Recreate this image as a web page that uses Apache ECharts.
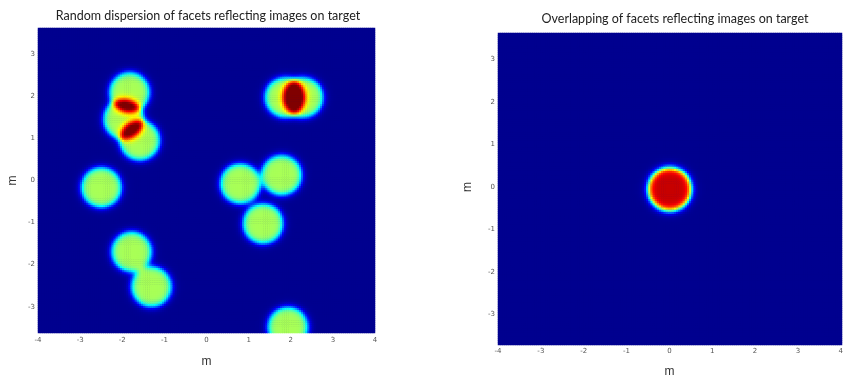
<!DOCTYPE html>
<html><head><meta charset="utf-8">
<script src="https://cdn.jsdelivr.net/npm/echarts@6/dist/echarts.min.js"></script>
<style>html,body{margin:0;padding:0;background:#fff}#c{width:846px;height:383px}</style>
</head><body><div id="c"></div>
<script>
// ---- data (metres) ----
// Left: centres of each facet's image spot on the target
const leftSpotX     = [-1.82, -1.96, -1.58, -2.49, -1.77, -1.30, 1.87, 2.30, 0.81, 1.79, 1.35, 1.94];
const leftSpotY     = [ 2.10,  1.46,  0.96, -0.16, -1.69, -2.52, 1.98, 1.98, -0.07, 0.13, -1.02, -3.48];
const leftSpotLevel = [ 0.54,  0.54,  0.54,  0.54,  0.54,  0.54, 0.54, 0.54, 0.54, 0.54, 0.54, 0.54];
const leftSpotRadius = 0.475;
// Right: all facets overlapped at the centre
const rightSpotX     = [0];
const rightSpotY     = [0];
const rightSpotLevel = [0.93];
const rightSpotRadius = 0.5;
// axis ticks / titles
const xTicks = [-4, -3, -2, -1, 0, 1, 2, 3, 4];
const yTicks = [-3, -2, -1, 0, 1, 2, 3];
const titles = ['Random dispersion of facets reflecting images on target',
                'Overlapping of facets reflecting images on target'];
const axisName = 'm';
const xRange = [-4, 4];
const yRange = [-3.625, 3.625];

// ---- build heatmap table from the spots ----
const step = 0.05;
const nx = Math.round((xRange[1] - xRange[0]) / step);
const ny = Math.round((yRange[1] - yRange[0]) / step);
const xCats = [], yCats = [];
for (let i = 0; i < nx; i++) xCats.push((xRange[0] + (i + 0.5) * step).toFixed(3));
for (let j = 0; j < ny; j++) yCats.push((yRange[0] + (j + 0.5) * step).toFixed(3));
const edge = 0.045;
function buildCells(sx, sy, sl, R) {
  const out = [];
  for (let i = 0; i < nx; i++) {
    const x = +xCats[i];
    for (let j = 0; j < ny; j++) {
      const y = +yCats[j];
      let v = 0;
      for (let k = 0; k < sx.length; k++) {
        const d = Math.hypot(x - sx[k], y - sy[k]);
        v += sl[k] / (1 + Math.exp((d - R) / edge));
      }
      out.push([i, j, Math.min(1, v)]);
    }
  }
  return out;
}
const leftCells = buildCells(leftSpotX, leftSpotY, leftSpotLevel, leftSpotRadius);
const rightCells = buildCells(rightSpotX, rightSpotY, rightSpotLevel, rightSpotRadius);

const plotBoxes = [
  {left: 38, top: 28, width: 337, height: 305},
  {left: 498, top: 33, width: 344, height: 312}
];
const jet = ['#00008F', '#0000FF', '#0080FF', '#00FFFF', '#80FF80', '#FFFF00', '#FF8000', '#FF0000', '#800000'];

const chart = echarts.init(document.getElementById('c'), null, {renderer: 'canvas'});
const labelStyle = {fontSize: 7, color: '#555', fontFamily: 'DejaVu Sans'};
const nameStyle = {fontSize: 12, color: '#333', fontFamily: 'Liberation Sans'};
chart.setOption({
  animation: false,
  backgroundColor: '#fff',
  title: [
    {text: titles[0], left: 203, top: 4, textAlign: 'center',
     textStyle: {fontSize: 12.5, fontWeight: 'normal', color: '#222', fontFamily: 'Lato'}},
    {text: titles[1], left: 670, top: 7, textAlign: 'center',
     textStyle: {fontSize: 12.5, fontWeight: 'normal', color: '#222', fontFamily: 'Lato'}}
  ],
  grid: [
    Object.assign({show: true, backgroundColor: '#00008F', borderWidth: 0}, plotBoxes[0]),
    Object.assign({show: true, backgroundColor: '#00008F', borderWidth: 0}, plotBoxes[1]),
    Object.assign({}, plotBoxes[0]),
    Object.assign({}, plotBoxes[1])
  ],
  xAxis: [
    {type: 'category', gridIndex: 0, data: xCats, show: false},
    {type: 'category', gridIndex: 1, data: xCats, show: false},
    {type: 'value', gridIndex: 2, min: xRange[0], max: xRange[1], interval: 1,
     axisLine: {show: false}, axisTick: {show: false}, splitLine: {show: false},
     axisLabel: Object.assign({margin: 4, customValues: xTicks}, labelStyle),
     name: axisName, nameLocation: 'middle', nameGap: 23, nameTextStyle: nameStyle},
    {type: 'value', gridIndex: 3, min: xRange[0], max: xRange[1], interval: 1,
     axisLine: {show: false}, axisTick: {show: false}, splitLine: {show: false},
     axisLabel: Object.assign({margin: 7, customValues: xTicks}, labelStyle),
     name: axisName, nameLocation: 'middle', nameGap: 25, nameTextStyle: nameStyle}
  ],
  yAxis: [
    {type: 'category', gridIndex: 0, data: yCats, show: false},
    {type: 'category', gridIndex: 1, data: yCats, show: false},
    {type: 'value', gridIndex: 2, min: yRange[0], max: yRange[1],
     axisLine: {show: false}, axisTick: {show: false}, splitLine: {show: false},
     axisLabel: Object.assign({margin: 3, customValues: yTicks}, labelStyle),
     name: axisName, nameLocation: 'middle', nameGap: 19, nameRotate: 90, nameTextStyle: nameStyle},
    {type: 'value', gridIndex: 3, min: yRange[0], max: yRange[1],
     axisLine: {show: false}, axisTick: {show: false}, splitLine: {show: false},
     axisLabel: Object.assign({margin: 3, customValues: yTicks}, labelStyle),
     name: axisName, nameLocation: 'middle', nameGap: 24, nameRotate: 90, nameTextStyle: nameStyle}
  ],
  visualMap: {show: false, type: 'continuous', min: 0, max: 1, seriesIndex: [0, 1],
              inRange: {color: jet}},
  series: [
    {type: 'heatmap', xAxisIndex: 0, yAxisIndex: 0, data: leftCells, progressive: 0, silent: true},
    {type: 'heatmap', xAxisIndex: 1, yAxisIndex: 1, data: rightCells, progressive: 0, silent: true}
  ]
});
</script>
</body></html>
